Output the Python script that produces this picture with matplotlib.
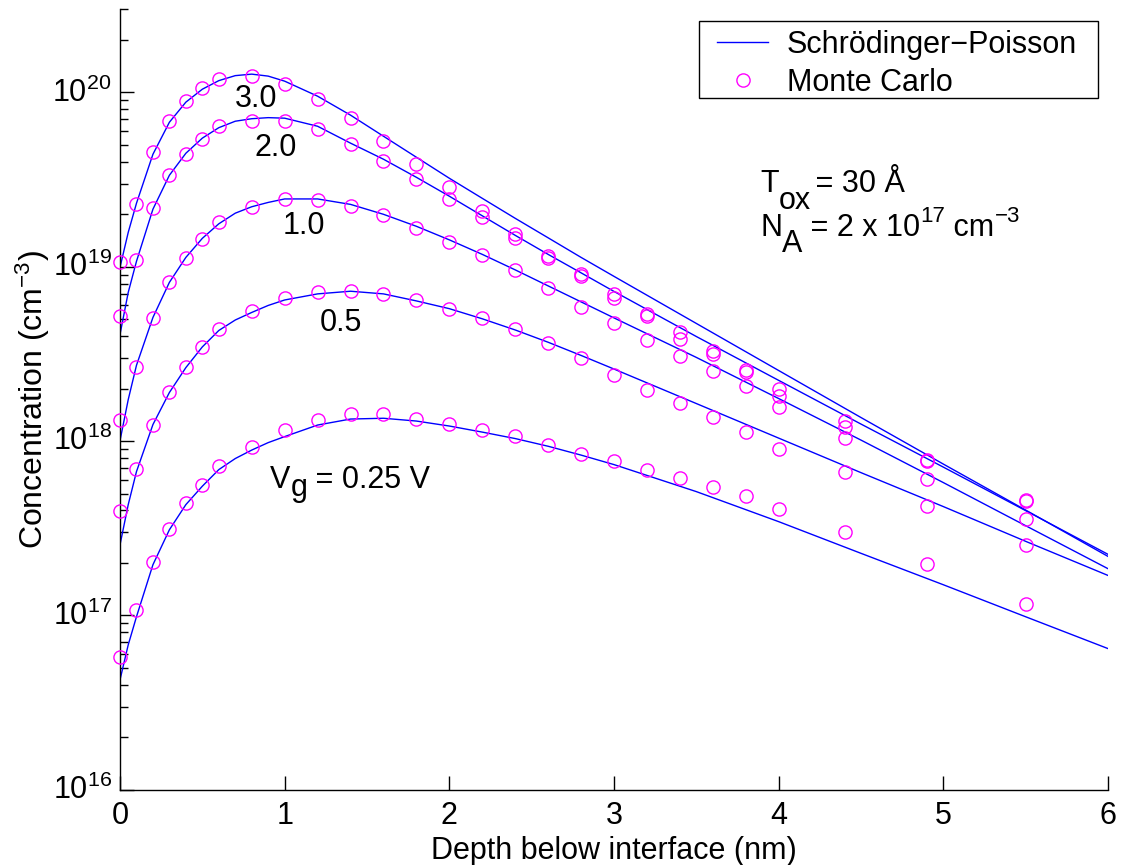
import matplotlib
matplotlib.use('Agg')
import matplotlib.pyplot as plt
from matplotlib.ticker import LogLocator, NullFormatter, FixedLocator
from matplotlib.patches import Rectangle
import matplotlib.transforms as mtransforms

plt.rcParams['font.family'] = ['Liberation Sans', 'DejaVu Sans']
plt.rcParams['mathtext.default'] = 'regular'
plt.rcParams['mathtext.fontset'] = 'custom'
plt.rcParams['mathtext.rm'] = 'Liberation Sans'
plt.rcParams['mathtext.it'] = 'Liberation Sans'

# ---------------- data ----------------
# Schroedinger-Poisson curves (depth nm, concentration cm^-3)
sp_depth = [0, 0.05, 0.1, 0.2, 0.3, 0.4, 0.5, 0.6, 0.7, 0.8, 0.9, 1.0, 1.2, 1.4,
            1.6, 1.8, 2.0, 2.2, 2.4, 2.6, 2.8, 3.0, 3.5, 4.0, 4.5, 5.0, 5.5, 6.0]
sp_vg_3_0 = [9.92e18, 1.576e19, 2.313e19, 4.42e19, 6.75e19, 8.80e19, 1.044e20, 1.169e20,
             1.249e20, 1.274e20, 1.241e20, 1.161e20, 9.52e19, 7.41e19, 5.61e19, 4.25e19,
             3.22e19, 2.47e19, 1.897e19, 1.466e19, 1.132e19, 8.81e18, 4.73e18, 2.54e18,
             1.365e18, 7.38e17, 4.02e17, 2.18e17]
sp_vg_2_0 = [4.09e18, 7.13e18, 1.074e19, 2.14e19, 3.35e19, 4.48e19, 5.47e19, 6.28e19,
             6.84e19, 7.07e19, 7.17e19, 7.12e19, 6.40e19, 5.12e19, 4.14e19, 3.26e19,
             2.54e19, 1.961e19, 1.515e19, 1.178e19, 9.23e18, 7.22e18, 3.98e18, 2.23e18,
             1.252e18, 7.09e17, 3.99e17, 2.24e17]
sp_vg_1_0 = [1.006e18, 1.73e18, 2.72e18, 5.12e18, 8.14e18, 1.132e19, 1.456e19, 1.764e19,
             2.03e19, 2.21e19, 2.34e19, 2.45e19, 2.45e19, 2.28e19, 2.00e19, 1.707e19,
             1.427e19, 1.178e19, 9.60e18, 7.77e18, 6.29e18, 5.09e18, 3.02e18, 1.754e18,
             1.013e18, 5.78e17, 3.27e17, 1.853e17]
sp_vg_0_5 = [2.54e17, 4.32e17, 6.68e17, 1.244e18, 1.90e18, 2.64e18, 3.47e18, 4.31e18,
             4.95e18, 5.47e18, 6.00e18, 6.45e18, 6.99e18, 7.24e18, 6.99e18, 6.37e18,
             5.75e18, 5.03e18, 4.34e18, 3.69e18, 3.10e18, 2.59e18, 1.642e18, 1.040e18,
             6.59e17, 4.21e17, 2.66e17, 1.695e17]
sp_vg_0_25 = [4.27e16, 6.78e16, 9.82e16, 1.953e17, 3.10e17, 4.32e17, 5.51e17, 6.86e17,
              7.94e17, 8.88e17, 9.80e17, 1.061e18, 1.236e18, 1.338e18, 1.352e18, 1.303e18,
              1.220e18, 1.126e18, 1.034e18, 9.34e17, 8.31e17, 7.33e17, 5.13e17, 3.45e17,
              2.27e17, 1.499e17, 9.82e16, 6.45e16]

# Monte Carlo points
mc_depth = [0, 0.1, 0.2, 0.3, 0.4, 0.5, 0.6, 0.8, 1.0, 1.2, 1.4, 1.6, 1.8, 2.0,
            2.2, 2.4, 2.6, 2.8, 3.0, 3.2, 3.4, 3.6, 3.8, 4.0, 4.4, 4.9, 5.5]
mc_vg_3_0 = [1.06e19, 2.28e19, 4.56e19, 6.90e19, 8.88e19, 1.054e20, 1.20e20, 1.245e20,
             1.116e20, 9.15e19, 7.12e19, 5.27e19, 3.91e19, 2.85e19, 2.09e19, 1.55e19,
             1.148e19, 9.10e18, 6.94e18, 5.38e18, 4.22e18, 3.28e18, 2.55e18, 1.98e18,
             1.30e18, 7.83e17, 4.61e17]
mc_vg_2_0 = [5.21e18, 1.093e19, 2.17e19, 3.35e19, 4.46e19, 5.44e19, 6.38e19, 6.87e19,
             6.87e19, 6.15e19, 5.09e19, 4.02e19, 3.18e19, 2.44e19, 1.93e19, 1.47e19,
             1.125e19, 8.87e18, 6.65e18, 5.21e18, 3.86e18, 3.18e18, 2.50e18, 1.82e18,
             1.21e18, 7.66e17, 4.51e17]
mc_vg_1_0 = [1.317e18, 2.65e18, 5.10e18, 8.21e18, 1.128e19, 1.45e19, 1.81e19, 2.20e19,
             2.44e19, 2.42e19, 2.23e19, 1.97e19, 1.68e19, 1.39e19, 1.167e19, 9.62e18,
             7.52e18, 5.90e18, 4.73e18, 3.79e18, 3.07e18, 2.54e18, 2.06e18, 1.57e18,
             1.047e18, 6.09e17, 3.59e17]
mc_vg_0_5 = [3.95e17, 6.92e17, 1.244e18, 1.91e18, 2.67e18, 3.48e18, 4.41e18, 5.57e18,
             6.65e18, 7.16e18, 7.25e18, 6.94e18, 6.41e18, 5.74e18, 5.10e18, 4.41e18,
             3.63e18, 2.98e18, 2.39e18, 1.96e18, 1.66e18, 1.37e18, 1.127e18, 9.06e17,
             6.62e17, 4.22e17, 2.52e17]
mc_vg_0_25 = [5.76e16, 1.067e17, 2.02e17, 3.13e17, 4.42e17, 5.62e17, 7.17e17, 9.21e17,
              1.153e18, 1.329e18, 1.432e18, 1.43e18, 1.347e18, 1.256e18, 1.164e18, 1.066e18,
              9.55e17, 8.48e17, 7.66e17, 6.80e17, 6.15e17, 5.46e17, 4.86e17, 4.10e17,
              2.99e17, 1.98e17, 1.161e17]

sp_series = [sp_vg_0_25, sp_vg_0_5, sp_vg_1_0, sp_vg_2_0, sp_vg_3_0]
mc_series = [mc_vg_0_25, mc_vg_0_5, mc_vg_1_0, mc_vg_2_0, mc_vg_3_0]
curve_labels = ['0.5', '1.0', '2.0', '3.0']
legend_labels = ['Schrödinger\u2212Poisson', 'Monte Carlo']
x_ticks = [0, 1, 2, 3, 4, 5, 6]

# ---------------- figure ----------------
W, H = 1122, 865
fig = plt.figure(figsize=(W / 100, H / 100), dpi=100)
ax = fig.add_axes([120 / W, 1 - 789.7 / H, (1108 - 120) / W, (789.7 - 9.3) / H])

FS = 22
blue = '#0000ff'
mag = '#ff00ff'

for s in sp_series:
    ax.plot(sp_depth, s, color=blue, lw=1.0, zorder=2)
for s in mc_series:
    ax.plot(mc_depth, s, ls='none', marker='o', ms=9.5, mfc='none', mec=mag,
            mew=1.0, zorder=3, clip_on=False)

ax.set_yscale('log')
ax.set_xlim(0, 6)
ax.set_ylim(1e16, 3e20)
ax.xaxis.set_major_locator(FixedLocator(x_ticks))
ax.set_xticklabels([str(t) for t in x_ticks])
ax.yaxis.set_major_locator(LogLocator(base=10, numticks=20))
ax.yaxis.set_minor_locator(LogLocator(base=10, subs=[2, 3, 4, 5, 6, 7, 8, 9], numticks=50))
ax.yaxis.set_minor_formatter(NullFormatter())

for side in ['top', 'right']:
    ax.spines[side].set_visible(False)
for side in ['left', 'bottom']:
    ax.spines[side].set_linewidth(1.0)

ax.tick_params(which='both', direction='in', top=False, right=False, labelsize=FS, width=1.0)
ax.tick_params(which='major', length=10)
ax.tick_params(which='minor', length=6)
ax.tick_params(axis='x', pad=8)
ax.tick_params(axis='y', pad=6)

offset = mtransforms.ScaledTranslation(0, 2 / 72, fig.dpi_scale_trans)
for lab in ax.get_yticklabels():
    lab.set_transform(lab.get_transform() + offset)

ax.set_xlabel('Depth below interface (nm)', fontsize=FS, labelpad=4)
ax.set_ylabel('Concentration (cm$^{\u22123}$)', fontsize=23, labelpad=0)


def rich_text(x, y, pieces):
    """pieces: list of (text, dx points, dy points relative to previous piece, fontsize)"""
    first = ax.text(x, y, pieces[0][0], fontsize=pieces[0][3], ha='left', va='baseline')
    prev = first
    for txt, dx, dy, fs in pieces[1:]:
        prev = ax.annotate(txt, xy=(1, 0), xycoords=prev, xytext=(dx, dy),
                           textcoords='offset points', fontsize=fs,
                           ha='left', va='bottom')
    return first


# curve labels
rich_text(0.911, 5.41e17, [('V', 0, 0, FS), ('g', 0, -6, FS), (' = 0.25 V', 0, 6, FS)])
ax.text(1.342, 4.27e18, curve_labels[0], fontsize=FS, ha='center', va='baseline')
ax.text(1.117, 1.535e19, curve_labels[1], fontsize=FS, ha='center', va='baseline')
ax.text(0.947, 4.32e19, curve_labels[2], fontsize=FS, ha='center', va='baseline')
ax.text(0.8266, 8.2e19, curve_labels[3], fontsize=FS, ha='center', va='baseline')

# parameters
rich_text(3.887, 2.67e19, [('T', 0, 0, FS), ('ox', 0, -12, FS), (' = 30 Å', -3, 12, FS)])
rich_text(3.887, 1.495e19, [('N', 0, 0, FS), ('A', 0, -11, FS), (' = 2 x 10', 0, 11, FS),
                            ('17', 0, 12, 16), (' cm', 0, -12, FS), ('\u22123', 0, 12, 16)])

# legend (frame drawn separately to match the tight vertical padding)
handles = [plt.Line2D([], [], color=blue, lw=1.0),
           plt.Line2D([], [], ls='none', marker='o', ms=9.5, mfc='none', mec=mag, mew=1.0)]
leg = ax.legend(handles, legend_labels, loc='upper left',
                bbox_to_anchor=(717 / W, 1 - 30 / H), bbox_transform=fig.transFigure,
                borderaxespad=0, borderpad=0, fontsize=FS, frameon=False,
                handlelength=1.67, handletextpad=0.62, labelspacing=0.26)
leg.set_zorder(6)
frame = Rectangle((699 / W, 1 - 98 / H), 399 / W, 77 / H, transform=fig.transFigure,
                  facecolor='white', edgecolor='black', lw=1.0, zorder=5, clip_on=False)
ax.add_artist(frame)

fig.savefig('out.png', dpi=100)
